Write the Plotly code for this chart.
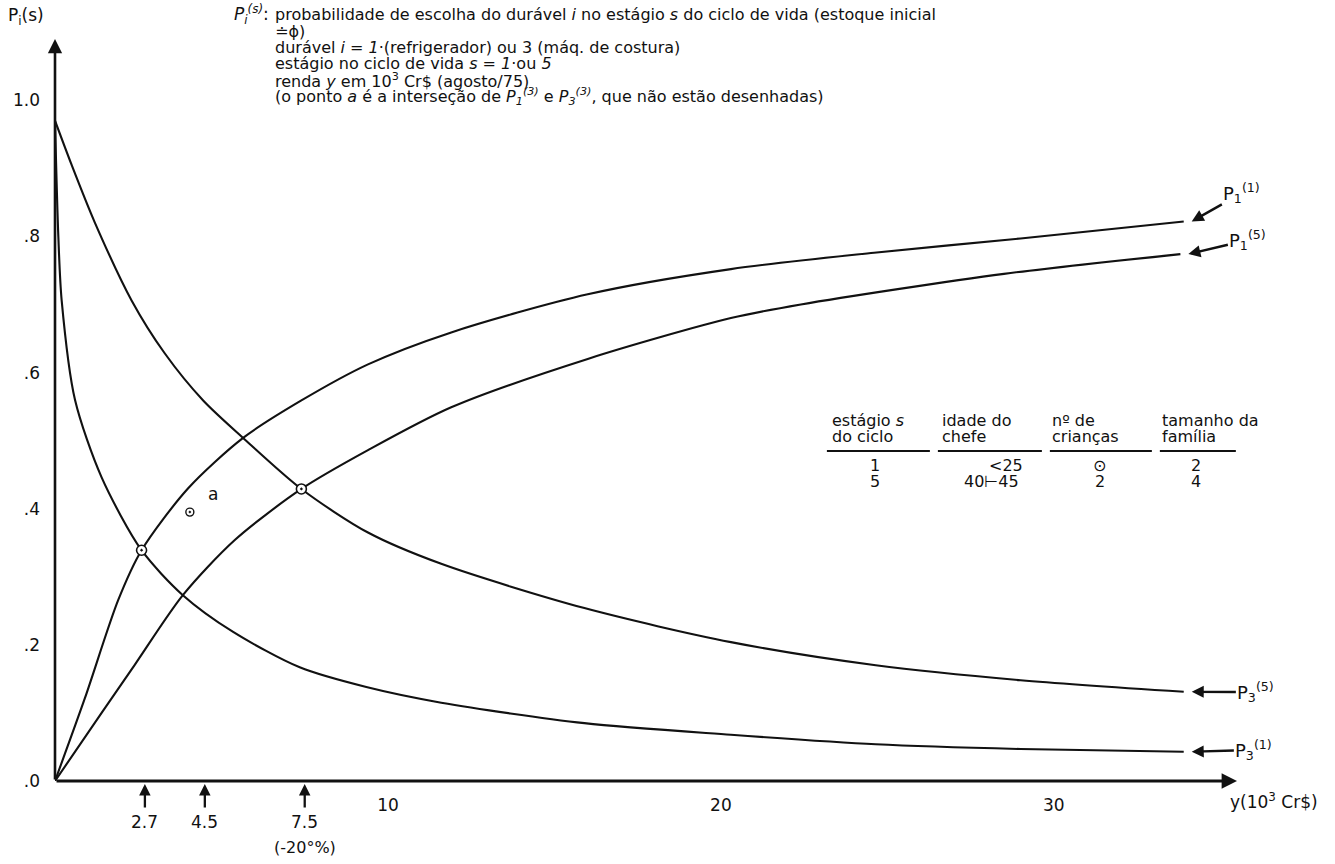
import plotly.graph_objects as go

# ---------------- data ----------------
p11_x = [0, 0.9, 1.9, 2.6, 4.0, 5.65, 7.4, 9.4, 11.9, 16.0, 20.3, 24.6, 29.0, 33.9]
p11_y = [0, 0.122, 0.266, 0.339, 0.43, 0.504, 0.559, 0.612, 0.659, 0.715, 0.752, 0.776, 0.797, 0.822]

p15_x = [0, 1.4, 2.4, 3.84, 5.4, 7.4, 9.4, 11.9, 16.0, 20.3, 22.4, 28.5, 33.8]
p15_y = [0, 0.10, 0.171, 0.273, 0.354, 0.429, 0.486, 0.549, 0.62, 0.68, 0.70, 0.745, 0.774]

p35_x = [0, 0.5, 1.2, 2.3, 3.3, 4.45, 5.65, 7.4, 9.4, 11.6, 15.9, 20.3, 24.65, 29.0, 33.9]
p35_y = [0.97, 0.905, 0.82, 0.706, 0.628, 0.559, 0.504, 0.429, 0.365, 0.319, 0.254, 0.204, 0.170, 0.148, 0.131]

p31_x = [0, 0.1, 0.2, 0.6, 1.4, 2.6, 3.84, 5.35, 7.35, 9.35, 11.6, 15.9, 20.3, 24.65, 29.0, 33.9]
p31_y = [0.97, 0.8, 0.706, 0.56, 0.446, 0.339, 0.273, 0.219, 0.167, 0.138, 0.115, 0.085, 0.068, 0.054, 0.047, 0.043]

inter_x = [2.6, 7.4]
inter_y = [0.339, 0.429]
point_a_x = [4.05]
point_a_y = [0.395]

y_tickvals = [0, 0.2, 0.4, 0.6, 0.8, 1.0]
y_ticktext = [".0", ".2", ".4", ".6", ".8", "1.0"]
x_tickvals = [10, 20, 30]
x_ticktext = ["10", "20", "30"]
marked_x = [2.7, 4.5, 7.5]
marked_lbl = ["2.7", "4.5", "7.5"]

table_head1 = ["estágio <i>s</i>", "idade do", "nº de", "tamanho da"]
table_head2 = ["do ciclo", "chefe", "crianças", "família"]
table_row1 = ["1", "&lt;25", "⊙", "2"]
table_row2 = ["5", "40⊢45", "2", "4"]

note_lines = [
    "probabilidade de escolha do durável <i>i</i> no estágio <i>s</i> do ciclo de vida (estoque inicial",
    "≐ϕ)",
    "durável <i>i</i> = <i>1</i>·(refrigerador) ou 3 (máq. de costura)",
    "estágio no ciclo de vida <i>s</i> = <i>1</i>·ou <i>5</i>",
    "renda <i>y</i> em 10<sup>3</sup> Cr$ (agosto/75)",
    "(o ponto <i>a</i> é a interseção de <i>P<sub>1</sub><sup>(3)</sup></i> e <i>P<sub>3</sub><sup>(3)</sup></i>, que não estão desenhadas)",
]

# ---------------- layout geometry ----------------
W, H = 1335, 864
X0, XS = 55, 33.3            # pixel of x=0, px per unit
Y0, YS = 781, 680.7          # pixel of y=0, px per unit
XMAX, YMAX = 35.5, 1.09
PW = XMAX * XS
PH = YMAX * YS


def px(p):   # pixel -> paper x
    return (p - X0) / PW


def py(p):   # pixel -> paper y
    return (Y0 - p) / PH


FONT = "DejaVu Sans, Verdana, sans-serif"
INK = "#111111"


def f(size):
    return dict(size=size, color=INK, family=FONT)


def note(xp, yp, text, size, xanchor="center"):
    return dict(x=px(xp), y=py(yp), xref="paper", yref="paper", text=text,
                showarrow=False, xanchor=xanchor, yanchor="middle", font=f(size))


fig = go.Figure()
for xs, ys in [(p11_x, p11_y), (p15_x, p15_y), (p35_x, p35_y), (p31_x, p31_y)]:
    fig.add_trace(go.Scatter(x=xs, y=ys, mode="lines",
                             line=dict(color=INK, width=2.1, shape="spline", smoothing=0.8),
                             cliponaxis=False, hoverinfo="skip", showlegend=False))

fig.add_trace(go.Scatter(x=inter_x, y=inter_y, mode="markers",
                         marker=dict(symbol="circle-dot", size=10, color="white",
                                     line=dict(color=INK, width=1.6)),
                         cliponaxis=False, hoverinfo="skip", showlegend=False))
fig.add_trace(go.Scatter(x=point_a_x, y=point_a_y, mode="markers",
                         marker=dict(symbol="circle-dot", size=8, color="white",
                                     line=dict(color=INK, width=1.4)),
                         cliponaxis=False, hoverinfo="skip", showlegend=False))

ann = []
# axes with arrowheads
ann.append(dict(x=0, y=YMAX, ax=0, ay=0, xref="x", yref="y", axref="x", ayref="y",
                text="", showarrow=True, arrowhead=2, arrowsize=1.1, arrowwidth=2.6,
                arrowcolor=INK))
ann.append(dict(x=XMAX, y=0, ax=0, ay=0, xref="x", yref="y", axref="x", ayref="y",
                text="", showarrow=True, arrowhead=2, arrowsize=1.1, arrowwidth=2.8,
                arrowcolor=INK))

# marked incomes with small arrows
for xv, lbl in zip(marked_x, marked_lbl):
    xpix = X0 + xv * XS
    ann.append(dict(x=px(xpix), y=py(784), xref="paper", yref="paper", ax=0, ay=25,
                    text="", showarrow=True, arrowhead=2, arrowsize=1.0,
                    arrowwidth=2.3, arrowcolor=INK))
    ann.append(note(xpix, 822, lbl, 17))
ann.append(note(X0 + marked_x[2] * XS, 847, "(-20°%)", 16))

# axis titles
ann.append(note(1274, 801, "y(10<sup>3</sup> Cr$)", 17))
ann.append(note(26, 17, "P<sub>i</sub>(s)", 17))

# note block
ann.append(note(271, 15, "<i>P<sub>i</sub><sup>(s)</sup></i>:", 17, "right"))
for k, line in enumerate(note_lines):
    ann.append(note(273, 15 + 16.3 * k, line, 16, "left"))

# curve labels with arrows
curve_labels = [
    ("P<sub>1</sub><sup>(1)</sup>", p11_x[-1], p11_y[-1], 1242, 193),
    ("P<sub>1</sub><sup>(5)</sup>", p15_x[-1], p15_y[-1], 1248, 240),
    ("P<sub>3</sub><sup>(5)</sup>", p35_x[-1], p35_y[-1], 1256, 692),
    ("P<sub>3</sub><sup>(1)</sup>", p31_x[-1], p31_y[-1], 1254, 750),
]
for txt, xe, ye, lx, ly in curve_labels:
    hx, hy = X0 + xe * XS + 8, Y0 - ye * YS
    ann.append(dict(x=(hx - X0) / XS, y=(Y0 - hy) / YS, xref="x", yref="y", text=txt,
                    ax=lx - hx, ay=ly - hy, showarrow=True, arrowhead=2,
                    arrowsize=1.0, arrowwidth=2.4, arrowcolor=INK, standoff=0,
                    font=f(18)))

# point a label
ann.append(note(213, 494, "a", 17))

# table
col_left = [830, 940, 1050, 1160]
row1_center = [875, 1006, 1100, 1196]
row2_center = [875, 992, 1100, 1196]
for cx, t1, t2 in zip(col_left, table_head1, table_head2):
    ann.append(note(cx, 421, t1, 16, "left"))
    ann.append(note(cx, 437, t2, 16, "left"))
for c1, c2, r1, r2 in zip(row1_center, row2_center, table_row1, table_row2):
    ann.append(note(c1, 466, r1, 16))
    ann.append(note(c2, 482, r2, 16))

shapes = []
for a, b in [(827, 930), (938, 1042), (1050, 1152), (1160, 1236)]:
    shapes.append(dict(type="line", xref="paper", yref="paper", x0=px(a), x1=px(b),
                       y0=py(451), y1=py(451), line=dict(color=INK, width=1.8)))

fig.update_layout(
    width=W, height=H,
    margin=dict(l=X0, r=W - X0 - int(round(PW)), t=Y0 - int(round(PH)), b=H - Y0),
    paper_bgcolor="white", plot_bgcolor="white",
    showlegend=False,
    font=f(17),
    annotations=ann, shapes=shapes,
    xaxis=dict(range=[0, XMAX], showgrid=False, zeroline=False, showline=False,
               tickvals=x_tickvals, ticktext=x_ticktext, ticks="",
               ticklabelstandoff=12, tickfont=f(17), fixedrange=True),
    yaxis=dict(range=[0, YMAX], showgrid=False, zeroline=False, showline=False,
               tickvals=y_tickvals, ticktext=y_ticktext, ticks="",
               ticklabelstandoff=14, tickfont=f(17), fixedrange=True),
)

fig.write_html(
    "out.html",
    config={"displayModeBar": False, "staticPlot": True},
    post_script="document.body.style.margin='0';document.body.style.overflow='hidden';",
)
